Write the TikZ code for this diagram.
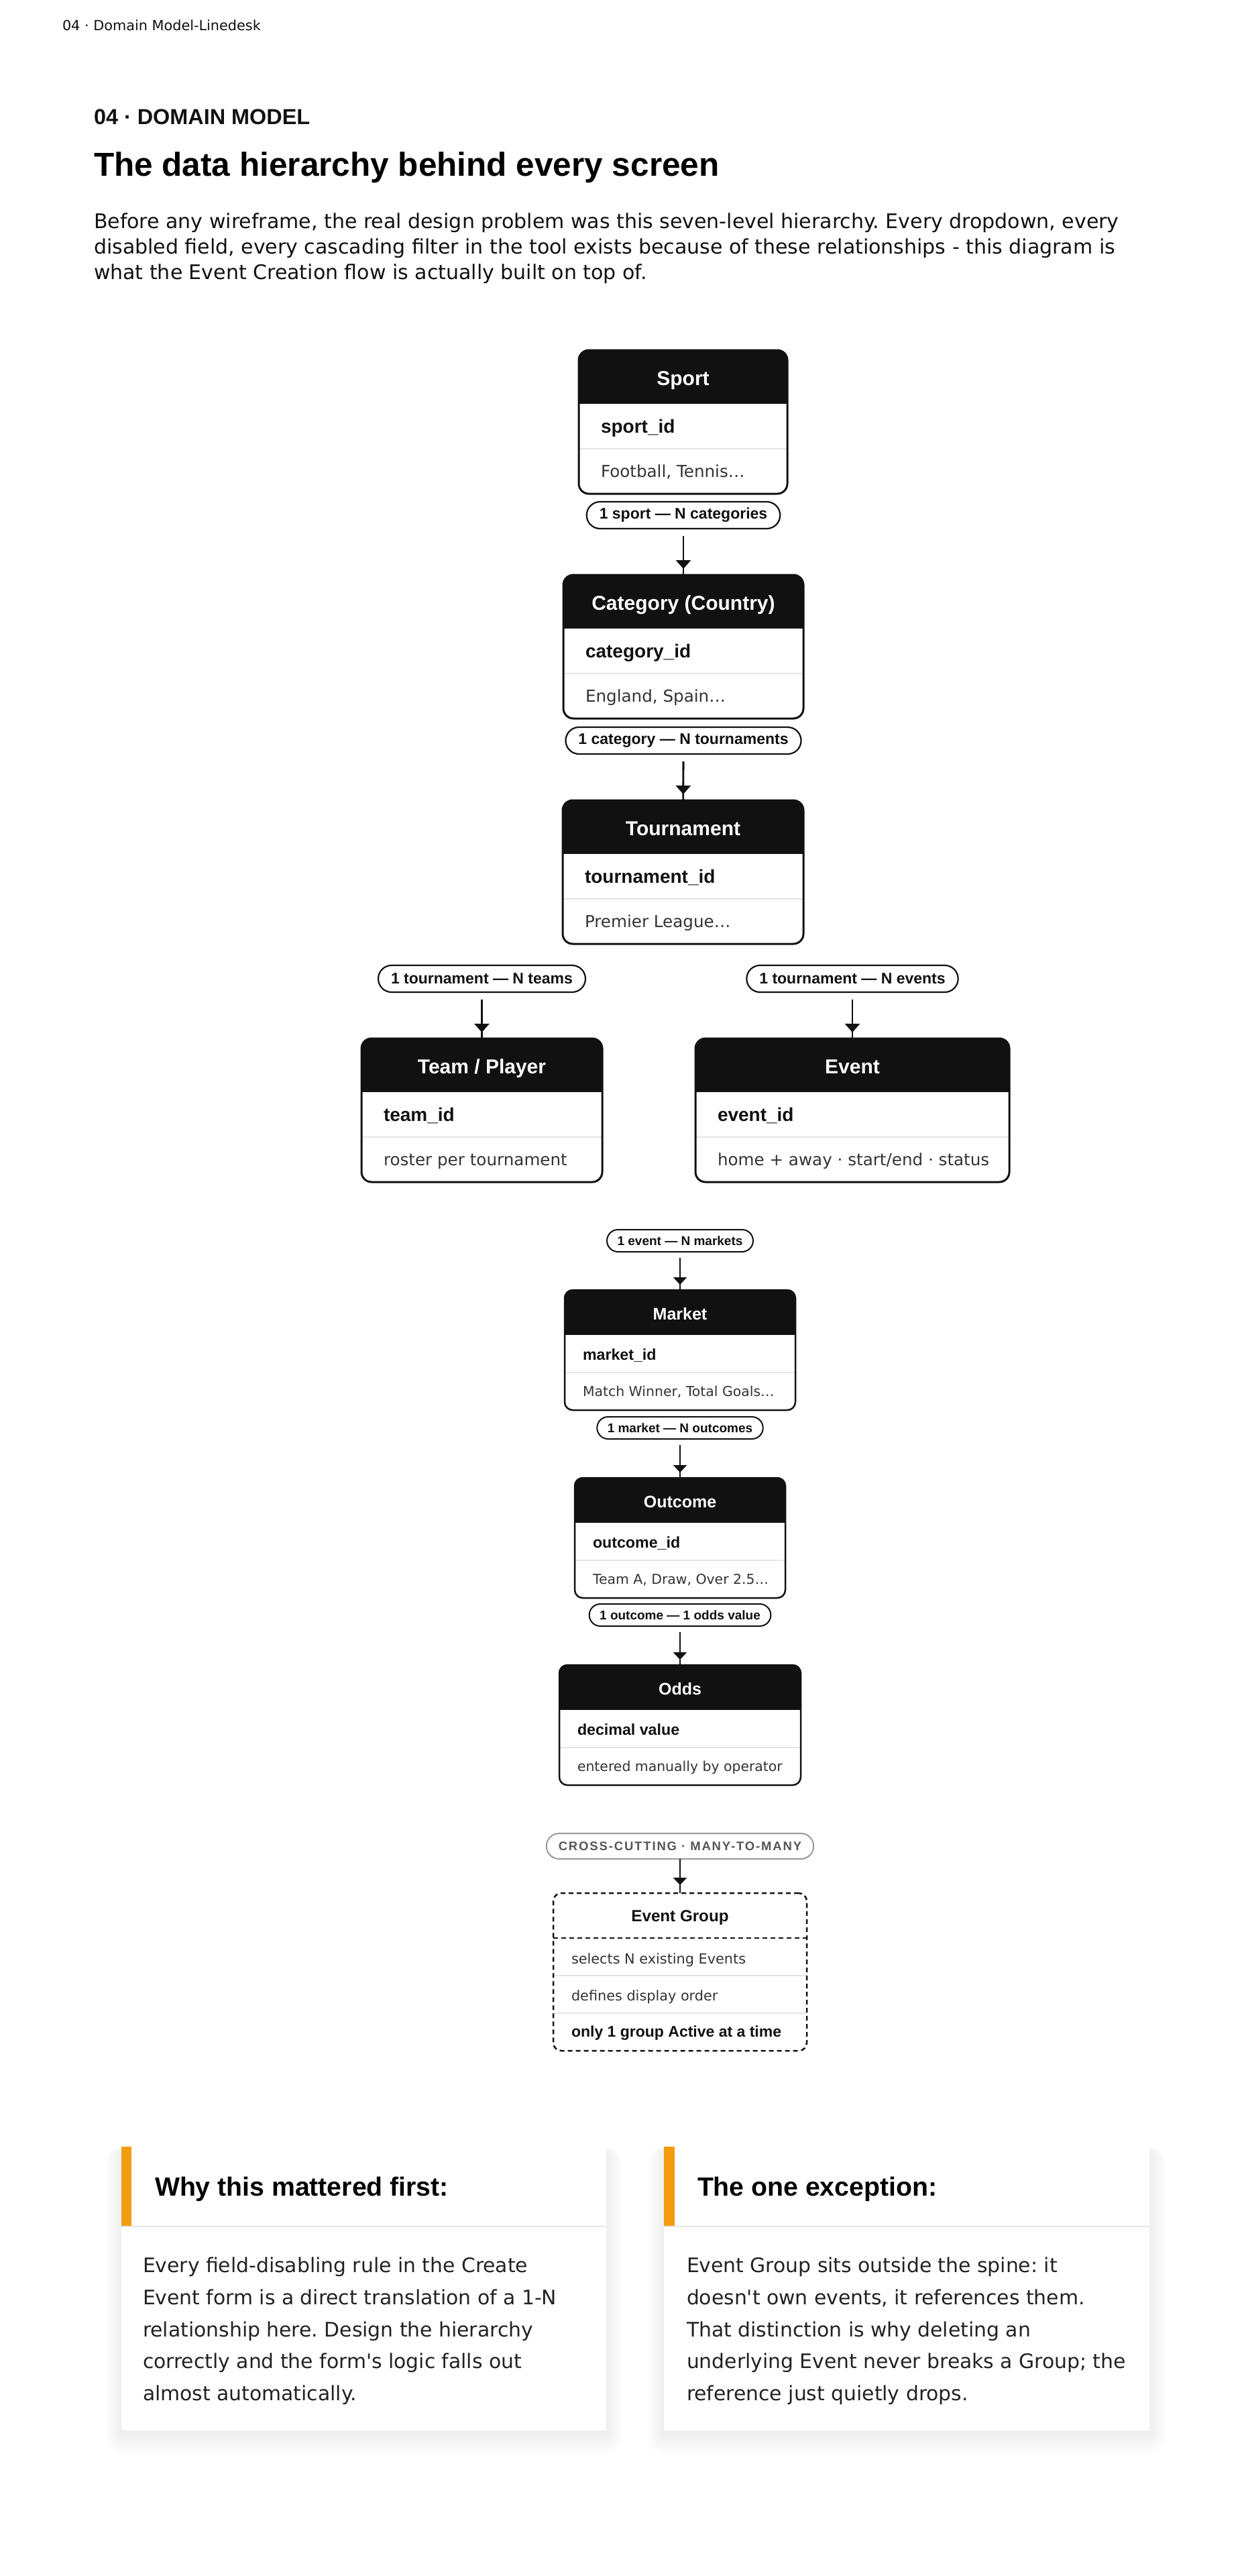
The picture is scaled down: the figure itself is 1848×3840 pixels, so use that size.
\documentclass[tikz,border=0pt]{standalone}
\usepackage{fontspec}
\setmainfont{DejaVu Sans}[Ligatures=TeXOff]
\newfontfamily\boldsans{Liberation Sans}[Ligatures=TeXOff]
\newfontfamily\spacedsans{Liberation Sans}[Ligatures=TeXOff, LetterSpace=10]
\newcommand\bsf{\boldsans\bfseries}
\usetikzlibrary{arrows.meta,fit}
\definecolor{ink}{HTML}{111111}
\definecolor{hdr}{HTML}{111111}
\definecolor{desc}{HTML}{333333}
\definecolor{rowline}{HTML}{E4E4E4}
\definecolor{accent}{HTML}{F29D0F}
\definecolor{pillgray}{HTML}{9A9A9A}
\definecolor{graytext}{HTML}{555555}
\definecolor{cardline}{HTML}{E6E6EA}
\definecolor{bodytext}{HTML}{222222}
\newcommand\fs[1]{\fontsize{#1pt}{#1pt}\selectfont}
% entity dimensions (px)
\def\ehB{80}\def\erB{67}\def\eradB{7.5pt}\def\etbB{52}\def\eibB{43}\def\edbB{42}\def\epadB{33}
\def\ehS{67}\def\erS{56}\def\eradS{6pt}\def\etbS{44}\def\eibS{37}\def\edbS{35}\def\epadS{27}
\newcommand\entity[8]{%
  \edef\eH{\csname eh#5\endcsname}%
  \edef\eR{\csname er#5\endcsname}%
  \edef\eRad{\csname erad#5\endcsname}%
  \edef\eTb{\csname etb#5\endcsname}%
  \edef\eIb{\csname eib#5\endcsname}%
  \edef\eDb{\csname edb#5\endcsname}%
  \edef\ePad{\csname epad#5\endcsname}%
  \pgfmathsetmacro\eA{#3+\eH}%
  \pgfmathsetmacro\eB{#3+\eH+\eR}%
  \pgfmathsetmacro\eC{#3+\eH+2*\eR}%
  \pgfmathsetmacro\eM{(#2+#4)/2}%
  \pgfmathsetmacro\eX{#2+\ePad}%
  \begin{scope}
    \clip[rounded corners=\eRad] (#2,#3) rectangle (#4,\eC);
    \fill[hdr] (#2,#3) rectangle (#4,\eA);
    \draw[rowline, line width=1pt] (#2,\eB) -- (#4,\eB);
  \end{scope}
  \node[frame#5, fit={(#2,#3) (#4,\eC)}] (#1) {};
  \node[hdr#5, anchor=base] (#1-title) at (\eM,#3+\eTb) {#6};
  \node[id#5, anchor=base west] (#1-id) at (\eX,\eA+\eIb) {#7};
  \node[desc#5, anchor=base west] (#1-desc) at (\eX,\eB+\eDb) {#8};
}
% soft card shadow, drawn as stacked translucent layers
\newcommand\cardshadow[4]{%
  \foreach \s in {1,...,16}{%
    \fill[black, opacity=0.0055, rounded corners=\s*0.9pt]
      ({#1-\s*1.6},{#2+7-\s*0.55}) rectangle ({#3+\s*1.6},{#4+4+\s*2.1});
  }%
}
\frenchspacing
\begin{document}
\begin{tikzpicture}[x=0.5pt,y=-0.5pt,
  every node/.style={inner sep=0pt, outer sep=0pt},
  hdrB/.style={font=\fs{15}\bsf, text=white},
  idB/.style={font=\fs{14}\bsf, text=ink},
  descB/.style={font=\fs{12.3}, text=desc},
  hdrS/.style={font=\fs{12.5}\bsf, text=white},
  idS/.style={font=\fs{11.6}\bsf, text=ink},
  descS/.style={font=\fs{10.2}, text=desc},
  frameB/.style={draw=ink, line width=1.5pt, rounded corners=7.5pt},
  frameS/.style={draw=ink, line width=1.25pt, rounded corners=6pt},
  pillB/.style={rectangle, draw=ink, line width=1.1pt, fill=white, rounded corners=10pt, minimum height=20pt, inner xsep=9.5pt, font=\fs{11.5}\bsf, text=ink},
  pillS/.style={rectangle, draw=ink, line width=1pt, fill=white, rounded corners=8.25pt, minimum height=16.5pt, inner xsep=7.75pt, font=\fs{9.5}\bsf, text=ink},
  pillX/.style={rectangle, draw=pillgray, line width=1pt, fill=white, rounded corners=9.5pt, minimum height=19pt, inner xsep=9pt, font=\spacedsans\fs{9.25}\bfseries, text=graytext},
  connB/.style={draw=ink, line width=1.35pt},
  tipB/.style={draw=ink, line width=1.35pt, -{Triangle[width=11pt,length=6.5pt]}},
  connS/.style={draw=ink, line width=1.25pt},
  tipS/.style={draw=ink, line width=1.25pt, -{Triangle[width=10pt,length=5.5pt]}},
  groupframe/.style={draw=ink, line width=1.25pt, dash pattern=on 3.5pt off 2.5pt, rounded corners=6pt},
  card/.style={fill=white},
  cardtitle/.style={font=\fs{19.6}\bsf, text=black},
  cardbody/.style={font=\fs{14.9}, text=bodytext},
  para/.style={font=\fs{15}, text=ink},
]
\useasboundingbox (0,0) rectangle (1848,3840);
\fill[white] (0,0) rectangle (1848,3840);

% page header
\node[anchor=base west, font=\fs{10.4}, text=ink] (crumb) at (93,45) {04 · Domain Model-Linedesk};
\node[anchor=base west, font=\fs{16.2}\bsf, text=ink] (kicker) at (140,185) {04 · DOMAIN MODEL};
\node[anchor=base west, font=\fs{24.75}\bsf, text=black] (title) at (140,262) {The data hierarchy behind every screen};
\node[para, anchor=base west] (para1) at (140,340) {Before any wireframe, the real design problem was this seven-level hierarchy. Every dropdown, every};
\node[para, anchor=base west] (para2) at (140,378) {disabled field, every cascading filter in the tool exists because of these relationships - this diagram is};
\node[para, anchor=base west] (para3) at (140,416) {what the Event Creation flow is actually built on top of.};

% entities
\entity{sport}{863}{522}{1174}{B}{Sport}{sport\_id}{Football, Tennis…}
\entity{cat}{840}{857}{1198}{B}{Category (Country)}{category\_id}{England, Spain…}
\entity{tour}{839}{1193}{1198}{B}{Tournament}{tournament\_id}{Premier League…}
\entity{team}{539}{1548}{898}{B}{Team / Player}{team\_id}{roster per tournament}
\entity{event}{1037}{1548}{1505}{B}{Event}{event\_id}{home + away · start/end · status}
\entity{market}{842}{1923}{1186}{S}{Market}{market\_id}{Match Winner, Total Goals…}
\entity{outcome}{857}{2203}{1171}{S}{Outcome}{outcome\_id}{Team A, Draw, Over 2.5…}
\entity{odds}{834}{2482}{1194}{S}{Odds}{decimal value}{entered manually by operator}

% relationship pills
\node[pillB] (p1) at (1019,768) {1 sport — N categories};
\node[pillB] (p2) at (1019,1104) {1 category — N tournaments};
\node[pillB] (p3) at (718.5,1459) {1 tournament — N teams};
\node[pillB] (p4) at (1271,1459) {1 tournament — N events};
\node[pillS] (p5) at (1014,1849.5) {1 event — N markets};
\node[pillS] (p6) at (1014,2128.5) {1 market — N outcomes};
\node[pillS] (p7) at (1014,2407.5) {1 outcome — 1 odds value};
\node[pillX] (p8) at (1014,2752) {CROSS-CUTTING · MANY-TO-MANY};

% connectors
\foreach \a/\b in {p1/cat,p2/tour,p3/team,p4/event}{
  \draw[connB, shorten <=5.5pt] (\a) -- (\b);
  \draw[tipB, shorten <=5.5pt, shorten >=4.5pt] (\a) -- (\b);
}
\foreach \a/\b in {p5/market,p6/outcome,p7/odds}{
  \draw[connS, shorten <=4.5pt] (\a) -- (\b);
  \draw[tipS, shorten <=4.5pt, shorten >=4pt] (\a) -- (\b);
}

% event group
\draw[rowline, line width=1pt] (825,2945) -- (1203,2945);
\draw[rowline, line width=1pt] (825,3001) -- (1203,3001);
\draw[draw=ink, line width=1.25pt, dash pattern=on 3.5pt off 2.5pt] (825,2889) -- (1203,2889);
\node[groupframe, fit={(825,2822) (1203,3057)}] (grp) {};
\node[font=\fs{12.1}\bsf, text=ink, anchor=base] (grp-title) at (1014,2864) {Event Group};
\node[font=\fs{10.4}, text=desc, anchor=base west] (grp-r1) at (852,2927) {selects N existing Events};
\node[font=\fs{10.4}, text=desc, anchor=base west] (grp-r2) at (852,2982) {defines display order};
\node[font=\fs{11.5}\bsf, text=ink, anchor=base west] (grp-r3) at (852,3036) {only 1 group Active at a time};
\draw[connS] (p8) -- (grp);
\draw[tipS, shorten >=6pt] (p8) -- (grp);

% cards
\cardshadow{181}{3200}{904}{3623}
\node[card, fit={(181,3200) (904,3623)}] (card1) {};
\fill[accent] (181,3200) rectangle (196,3318);
\draw[cardline, line width=1pt] (181,3319) -- (904,3319);
\node[cardtitle, anchor=base west] (card1-title) at (231,3273) {Why this mattered first:};
\node[cardbody, anchor=base west] (card1-l1) at (213,3387) {Every field-disabling rule in the Create};
\node[cardbody, anchor=base west] (card1-l2) at (213,3435) {Event form is a direct translation of a 1-N};
\node[cardbody, anchor=base west] (card1-l3) at (213,3483) {relationship here. Design the hierarchy};
\node[cardbody, anchor=base west] (card1-l4) at (213,3530) {correctly and the form's logic falls out};
\node[cardbody, anchor=base west] (card1-l5) at (213,3578) {almost automatically.};

\cardshadow{990}{3200}{1714}{3623}
\node[card, fit={(990,3200) (1714,3623)}] (card2) {};
\fill[accent] (990,3200) rectangle (1006,3318);
\draw[cardline, line width=1pt] (990,3319) -- (1714,3319);
\node[cardtitle, anchor=base west] (card2-title) at (1040,3273) {The one exception:};
\node[cardbody, anchor=base west] (card2-l1) at (1024,3387) {Event Group sits outside the spine: it};
\node[cardbody, anchor=base west] (card2-l2) at (1024,3435) {doesn't own events, it references them.};
\node[cardbody, anchor=base west] (card2-l3) at (1024,3483) {That distinction is why deleting an};
\node[cardbody, anchor=base west] (card2-l4) at (1024,3530) {underlying Event never breaks a Group; the};
\node[cardbody, anchor=base west] (card2-l5) at (1024,3578) {reference just quietly drops.};
\end{tikzpicture}
\end{document}
